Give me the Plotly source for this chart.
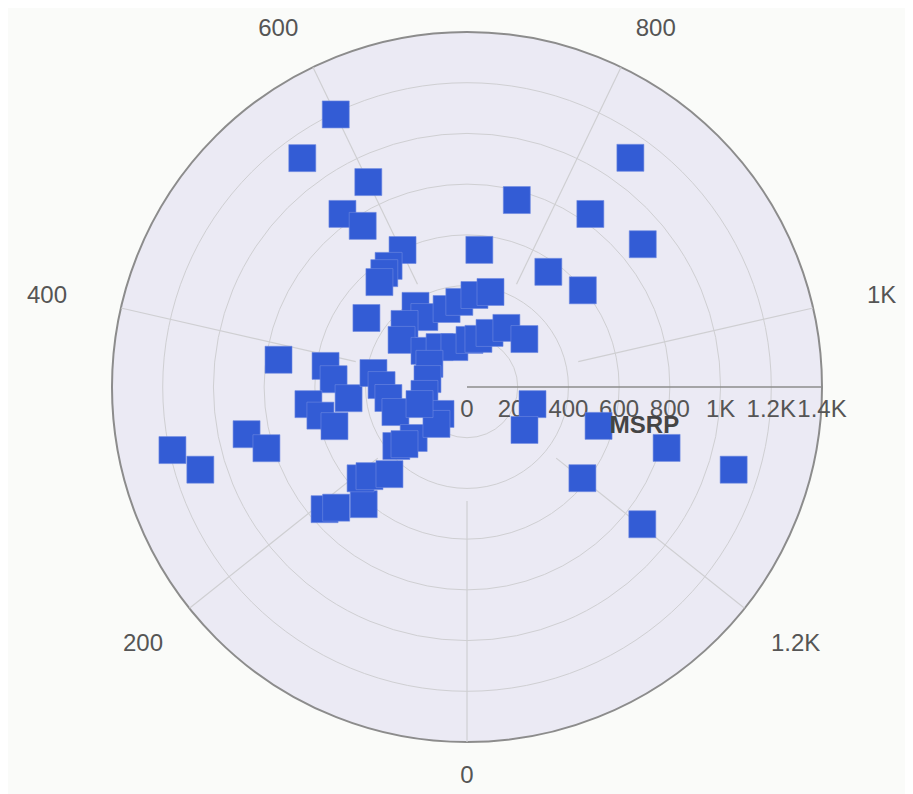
import plotly.graph_objects as go

# ---- data ----
msrp = [1193, 1112, 897, 841, 757, 597, 569, 555, 539, 481, 751,
        543, 763, 1110, 838, 893, 556, 595,
        267, 283, 541, 823, 1101, 580, 878,
        1188, 1101, 889, 827,
        740, 702, 616, 553, 521, 460,
        564, 527, 469, 629, 589, 545,
        379, 323, 318, 337, 364, 386, 350, 318,
        220, 191, 165, 186, 195, 231, 280, 295,
        373, 337, 313, 299, 363, 291,
        174, 159, 170, 149, 189, 199, 334]
angle_value = [600, 561, 600, 561, 572, 602, 572, 560, 545, 484, 382,
               720, 758, 838, 838, 898, 837, 895,
               1107, 1193, 1114, 1116, 1117, 1199, 1198,
               303, 283, 303, 284,
               192, 184, 161, 192, 185, 162,
               383, 363, 329, 326, 307, 286,
               574, 578, 643, 680, 718, 754, 526, 489,
               507, 566, 632, 712, 752, 788, 831, 895,
               383, 355, 319, 275, 195, 180,
               473, 394, 314, 173, 154, 273, 185]

angle_period = 1400
angle_ticks = [0, 200, 400, 600, 800, 1000, 1200]
angle_ticktext = ["0", "200", "400", "600", "800", "1K", "1.2K"]
radial_ticks = [0, 200, 400, 600, 800, 1000, 1200, 1400]
radial_ticktext = ["0", "200", "400", "600", "800", "1K", "1.2K", "1.4K"]
grid_inner = 450

# label groups (different padding from the circle, as in the reference)
label_groups = [
    ("polar", [200, 600, 800, 1200], 28),
    ("polar2", [400, 1000], 50),
    ("polar3", [0], 12),
]

def to_deg(v):
    return v * 360.0 / angle_period

fig = go.Figure()

# angular grid spokes (start away from the centre, as in the reference)
for t in angle_ticks:
    fig.add_trace(go.Scatterpolar(
        r=[grid_inner, radial_ticks[-1]], theta=[to_deg(t), to_deg(t)],
        mode="lines", line=dict(color="#cfcfd2", width=1.2),
        hoverinfo="skip", showlegend=False))

fig.add_trace(go.Scatterpolar(
    r=msrp, theta=[to_deg(v) for v in angle_value],
    mode="markers",
    marker=dict(symbol="square", size=27, color="#335CD5",
                line=dict(width=0.6, color="#6f8ae0")),
    showlegend=False))

# invisible traces so the label-only overlay subplots exist
for name, _, _ in label_groups[1:]:
    fig.add_trace(go.Scatterpolar(r=[radial_ticks[-1]], theta=[0], subplot=name,
                                  mode="markers", marker=dict(opacity=0),
                                  showlegend=False, hoverinfo="skip"))

def ang_axis(ticks, ticklen, show_line):
    return dict(
        rotation=270, direction="clockwise", thetaunit="degrees",
        tickmode="array", tickvals=[to_deg(t) for t in ticks],
        ticktext=[angle_ticktext[angle_ticks.index(t)] for t in ticks],
        ticksuffix="", showgrid=False, ticks="outside", ticklen=ticklen,
        tickcolor="rgba(0,0,0,0)",
        showline=show_line, linecolor="#8c8c8c", linewidth=2,
        tickfont=dict(size=24, color="#555"),
        layer="below traces")

full_domain = dict(x=[0, 1], y=[0, 1])
layout_polars = {}
for name, ticks, tl in label_groups:
    if name == "polar":
        layout_polars[name] = dict(
            domain=full_domain,
            bgcolor="#EBEAF4",
            angularaxis=ang_axis(ticks, tl, True),
            radialaxis=dict(
                range=[0, 1400], angle=0, side="clockwise", tickangle=0,
                tickmode="array", tickvals=radial_ticks, ticktext=radial_ticktext,
                showline=True, linecolor="#8c8c8c", linewidth=1.5,
                ticks="", gridcolor="#cfcfd2", gridwidth=1.2,
                tickfont=dict(size=24, color="#555"),
                title=dict(text="<b>MSRP</b>", font=dict(size=24, color="#444")),
                layer="below traces"))
    else:
        layout_polars[name] = dict(
            domain=full_domain,
            bgcolor="rgba(0,0,0,0)",
            angularaxis=ang_axis(ticks, tl, False),
            radialaxis=dict(range=[0, 1400], showline=False, showgrid=False,
                            showticklabels=False, ticks=""))

fig.update_layout(
    width=913, height=794,
    paper_bgcolor="#FAFBF9",
    margin=dict(l=104, r=99, t=24, b=60),
    font=dict(family="Arial, Liberation Sans, sans-serif", size=24, color="#555"),
    showlegend=False,
    **layout_polars,
)

fig.write_html("out.html")
